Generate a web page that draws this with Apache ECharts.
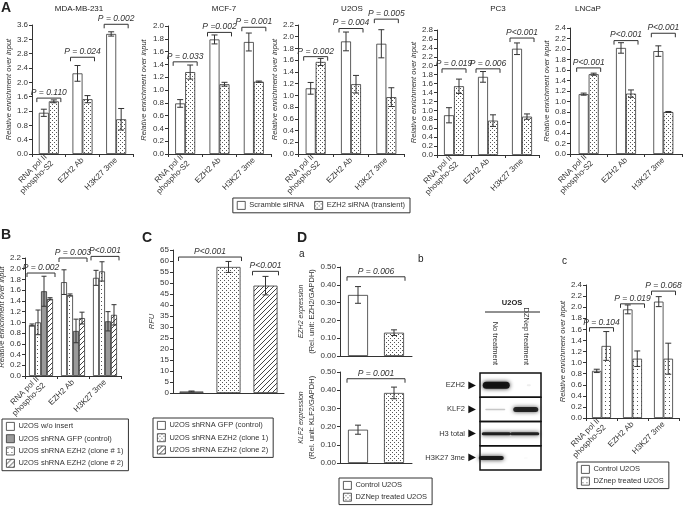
<!DOCTYPE html>
<html><head><meta charset="utf-8">
<script src="https://cdn.jsdelivr.net/npm/echarts@6/dist/echarts.min.js"></script>
<style>html,body{margin:0;padding:0;background:#fff}#c{width:685px;height:506px}</style>
</head><body><div id="c"></div>
<script>
// ================= DATA =================
const chipCats = ['RNA pol II\nphospho-S2', 'EZH2 Ab', 'H3K27 3me'];
const namesA = ['Scramble siRNA', 'EZH2 siRNA (transient)'];

const mdaScr = [1.15, 2.25, 3.35], mdaScrErr = [0.10, 0.22, 0.06];
const mdaSi  = [1.47, 1.53, 0.97], mdaSiErr  = [0.04, 0.10, 0.30];
const mdaP = ['P = 0.110', 'P = 0.024', 'P = 0.002'], mdaPy = [1.56, 2.70, 3.62];

const mcfScr = [0.79, 1.79, 1.75], mcfScrErr = [0.06, 0.07, 0.14];
const mcfSi  = [1.28, 1.09, 1.13], mcfSiErr  = [0.11, 0.03, 0.01];
const mcfP = ['P = 0.033', 'P =0.002', 'P = 0.001'], mcfPy = [1.44, 1.90, 1.98];

const u2Scr = [1.12, 1.92, 1.88], u2ScrErr = [0.10, 0.16, 0.24];
const u2Si  = [1.57, 1.19, 0.97], u2SiErr  = [0.06, 0.15, 0.16];
const u2P = ['P = 0.002', 'P = 0.004', 'P = 0.005'], u2Py = [1.66, 2.14, 2.30];

const pc3Scr = [0.89, 1.75, 2.38], pc3ScrErr = [0.17, 0.12, 0.13];
const pc3Si  = [1.54, 0.77, 0.86], pc3SiErr  = [0.16, 0.13, 0.06];
const pc3P = ['P = 0.019', 'P = 0.006', 'P<0.001'], pc3Py = [1.93, 1.93, 2.62];

const lnScr = [1.14, 2.02, 1.96], lnScrErr = [0.02, 0.10, 0.10];
const lnSi  = [1.52, 1.15, 0.80], lnSiErr  = [0.02, 0.07, 0.01];
const lnP = ['P<0.001', 'P<0.001', 'P<0.001'], lnPy = [1.64, 2.16, 2.30];

const namesB = ['U2OS w/o insert', 'U2OS shRNA GFP (control)', 'U2OS shRNA EZH2 (clone # 1)', 'U2OS shRNA EZH2 (clone # 2)'];
const bWo  = [0.95, 1.75, 1.83], bWoErr  = [0.02, 0.23, 0.14];
const bC1  = [1.00, 1.51, 1.95], bC1Err  = [0.23, 0.02, 0.18];
const bGfp = [1.58, 0.84, 1.02], bGfpErr = [0.28, 0.22, 0.18];
const bC2  = [1.44, 1.08, 1.14], bC2Err  = [0.02, 0.11, 0.19];
const bP = ['P = 0.002', 'P = 0.003', 'P<0.001'], bPy = [1.92, 2.20, 2.23];

const namesC = ['U2OS shRNA GFP (control)', 'U2OS shRNA EZH2 (clone 1)', 'U2OS shRNA EZH2 (clone 2)'];
const rfu = [0.7, 57.3, 48.8], rfuErr = [0.2, 2.5, 4.2];
const cP = ['P<0.001', 'P<0.001'], cPy = [61.8, 55.3], cPspan = [[0, 1], [2, 2]];

const namesDa = ['Control U2OS', 'DZNep treated U2OS'];
const ezh2Expr = [0.343, 0.131], ezh2Err = [0.047, 0.016];
const klf2Expr = [0.183, 0.385], klf2Err = [0.025, 0.032];
const ezh2P = ['P = 0.006'], ezh2Py = [0.445];
const klf2P = ['P = 0.001'], klf2Py = [0.463];

const blotLanes = ['No treatment', 'DZNep treatment'];
const blotRows = ['EZH2', 'KLF2', 'H3 total', 'H3K27 3me'];
const blotNoTreat = [0.95, 0.22, 0.9, 0.92];
const blotDZNep   = [0.07, 0.85, 0.88, 0.03];

const namesDc = ['Control U2OS', 'DZnep treated U2OS'];
const dcCtl = [0.85, 1.96, 2.10], dcCtlErr = [0.03, 0.08, 0.09];
const dcDz  = [1.30, 1.07, 1.07], dcDzErr  = [0.26, 0.14, 0.28];
const dcP = ['P = 0.104', 'P = 0.019', 'P = 0.068'], dcPy = [1.63, 2.06, 2.29];

// ================= STYLE =================
const FONT = '"Liberation Sans", Arial, sans-serif';
const INK = '#333';
function pat(w, h, draw) {
  const c = document.createElement('canvas'); c.width = w; c.height = h;
  const g = c.getContext('2d'); g.fillStyle = '#fff'; g.fillRect(0, 0, w, h); draw(g);
  return { image: c, repeat: 'repeat' };
}
const dotsDense = pat(4, 4, g => { g.fillStyle = '#555'; g.fillRect(0, 0, 1, 1); g.fillRect(2, 2, 1, 1); });
const dotsSparse = pat(4, 4, g => { g.fillStyle = '#555'; g.fillRect(1, 1, 1, 1); });
const hatch = pat(5, 5, g => { g.fillStyle = '#444'; for (let i = 0; i < 5; i++) g.fillRect(4 - i, i, 1, 1); });
const WHITE = '#ffffff', GRAY = '#9a9a9a';
// band [width, height, dx] per row per lane (blot drawing style)
const bandStyle = [[[27, 7, 1], [4, 2, 3]], [[20, 1.5, 0], [25, 5, 0]], [[29, 3, 1], [29, 3, -1]], [[25, 4, -4], [4, 1, 0]]];

const grids = [], xAxes = [], yAxes = [], series = [];

function valueAxis(max, interval, dec, name, nameGap, rich) {
  return {
    type: 'value', min: 0, max, interval,
    axisLine: { show: true, lineStyle: { color: INK, width: 1 } },
    axisTick: { show: true, length: 3, lineStyle: { color: INK } },
    axisLabel: { fontSize: 8, color: INK, fontFamily: FONT, margin: 4, formatter: v => v.toFixed(dec) },
    splitLine: { show: false },
    name, nameLocation: 'middle', nameGap,
    nameTextStyle: rich ? { fontFamily: FONT, color: INK, fontSize: 7.5, lineHeight: 10, rich }
                        : { fontFamily: FONT, color: INK, fontSize: 7.5, fontStyle: 'italic' }
  };
}
function catAxis(data, labels, ticks) {
  return {
    type: 'category', data,
    axisLine: { show: true, lineStyle: { color: INK, width: 1 } },
    axisTick: { show: ticks, length: 3, lineStyle: { color: INK } },
    axisLabel: { show: labels, rotate: 45, interval: 0, fontSize: 8, color: INK, fontFamily: FONT, margin: 5, lineHeight: 9 }
  };
}
function errSeries(gi, vals, errs, offset, cap) {
  const data = [];
  vals.forEach((v, i) => { if (typeof v === 'number') data.push([i, v, errs[i]]); });
  return {
    type: 'custom', xAxisIndex: gi, yAxisIndex: gi, z: 4, silent: true, encode: { x: 0, y: 1 }, data,
    renderItem(params, api) {
      const i = api.value(0), v = api.value(1), e = api.value(2);
      const t = api.coord([i, v + e]), b = api.coord([i, v - e]);
      const x = t[0] + offset, st = { stroke: INK, lineWidth: 1 };
      return { type: 'group', children: [
        { type: 'line', shape: { x1: x, y1: t[1], x2: x, y2: b[1] }, style: st },
        { type: 'line', shape: { x1: x - cap, y1: t[1], x2: x + cap, y2: t[1] }, style: st },
        { type: 'line', shape: { x1: x - cap, y1: b[1], x2: x + cap, y2: b[1] }, style: st }
      ] };
    }
  };
}
function bracketSeries(gi, spans, ys, texts, half) {
  return {
    type: 'custom', xAxisIndex: gi, yAxisIndex: gi, z: 4, silent: true, clip: false, encode: { x: 0, y: 1 },
    data: spans.map((s, k) => [s[0], ys[k], s[1], k]),
    renderItem(params, api) {
      const a = api.coord([api.value(0), api.value(1)]);
      const b = api.coord([api.value(2), api.value(1)]);
      const x1 = a[0] - half, x2 = b[0] + half, y = a[1];
      return { type: 'group', children: [
        { type: 'polyline', shape: { points: [[x1, y + 4], [x1, y], [x2, y], [x2, y + 4]] }, style: { stroke: INK, lineWidth: 1, fill: 'none' } },
        { type: 'text', x: (x1 + x2) / 2, y: y - 1, style: { text: texts[api.value(3)], align: 'center', verticalAlign: 'bottom', fontFamily: FONT, fontSize: 8.5, fontStyle: 'italic', fill: INK } }
      ] };
    }
  };
}
function panel(o) {
  const gi = grids.length;
  grids.push(Object.assign({ outerBoundsMode: 'none', containLabel: false }, o.box));
  xAxes.push(Object.assign(catAxis(o.cats, o.xLabels !== false, o.xTicks !== false), { gridIndex: gi }));
  yAxes.push(Object.assign(valueAxis(o.max, o.interval, o.dec, o.yName, o.nameGap, o.rich), { gridIndex: gi }));
  const n = o.names.length;
  o.names.forEach((nm, k) => {
    const offset = o.overlap ? 0 : (k - (n - 1) / 2) * o.barW;
    series.push({ type: 'bar', name: nm, xAxisIndex: gi, yAxisIndex: gi, data: o.vals[k], barWidth: o.barW,
      barGap: o.overlap ? '-100%' : '0%', silent: true,
      itemStyle: { color: o.fills[k], borderColor: INK, borderWidth: 0.8 } });
    series.push(errSeries(gi, o.vals[k], o.errs[k], offset, o.cap));
  });
  series.push(bracketSeries(gi, o.pSpans, o.pYs, o.pTexts, o.half));
  return gi;
}
const same3 = [[0, 0], [1, 1], [2, 2]];
const REL = 'Relative enrichment over input';
const fillsA = [WHITE, dotsDense];

// ---- Panel A ----
panel({ box: { left: 32, top: 25, width: 101, height: 129 }, cats: chipCats, max: 3.6, interval: 0.4, dec: 1, yName: REL, nameGap: 19,
  names: namesA, vals: [mdaScr, mdaSi], errs: [mdaScrErr, mdaSiErr], fills: fillsA, barW: 10, cap: 3, pSpans: same3, pYs: mdaPy, pTexts: mdaP, half: 12 });
panel({ box: { left: 168, top: 26, width: 103, height: 128 }, cats: chipCats, max: 2.0, interval: 0.2, dec: 1, yName: REL, nameGap: 20,
  names: namesA, vals: [mcfScr, mcfSi], errs: [mcfScrErr, mcfSiErr], fills: fillsA, barW: 10, cap: 3, pSpans: same3, pYs: mcfPy, pTexts: mcfP, half: 12 });
panel({ box: { left: 298, top: 25, width: 106, height: 129 }, cats: chipCats, max: 2.2, interval: 0.2, dec: 1, yName: REL, nameGap: 17,
  names: namesA, vals: [u2Scr, u2Si], errs: [u2ScrErr, u2SiErr], fills: fillsA, barW: 10, cap: 3, pSpans: same3, pYs: u2Py, pTexts: u2P, half: 12 });
panel({ box: { left: 437, top: 30, width: 102, height: 125 }, cats: chipCats, max: 2.8, interval: 0.2, dec: 1, yName: REL, nameGap: 15,
  names: namesA, vals: [pc3Scr, pc3Si], errs: [pc3ScrErr, pc3SiErr], fills: fillsA, barW: 10, cap: 3, pSpans: same3, pYs: pc3Py, pTexts: pc3P, half: 12 });
panel({ box: { left: 570, top: 28, width: 112, height: 126 }, cats: chipCats, max: 2.4, interval: 0.2, dec: 1, yName: REL, nameGap: 15,
  names: namesA, vals: [lnScr, lnSi], errs: [lnScrErr, lnSiErr], fills: fillsA, barW: 10, cap: 3, pSpans: same3, pYs: lnPy, pTexts: lnP, half: 12 });

// ---- Panel B ---- (bar order as drawn: white, sparse dots, gray, hatch)
panel({ box: { left: 25, top: 258, width: 96, height: 118 }, cats: chipCats, max: 2.2, interval: 0.2, dec: 1, yName: REL, nameGap: 15,
  names: [namesB[0], namesB[2], namesB[1], namesB[3]], vals: [bWo, bC1, bGfp, bC2], errs: [bWoErr, bC1Err, bGfpErr, bC2Err],
  fills: [WHITE, dotsSparse, GRAY, hatch], barW: 6, cap: 2.5, pSpans: same3, pYs: bPy, pTexts: bP, half: 14 });

// ---- Panel C ----
panel({ box: { left: 173, top: 250, width: 111, height: 143 }, cats: namesC, xLabels: false, xTicks: false, max: 65, interval: 5, dec: 0, yName: 'RFU', nameGap: 16,
  names: namesC, overlap: true,
  vals: [[rfu[0], '-', '-'], ['-', rfu[1], '-'], ['-', '-', rfu[2]]],
  errs: [rfuErr, rfuErr, rfuErr], fills: [WHITE, dotsDense, hatch], barW: 24, cap: 3, pSpans: cPspan, pYs: cPy, pTexts: cP, half: 13 });

// ---- Panel D a ----
const richE = { i: { fontStyle: 'italic', fontSize: 7, fontFamily: FONT, color: INK }, n: { fontSize: 7.5, fontFamily: FONT, color: INK } };
panel({ box: { left: 340, top: 267, width: 72, height: 89 }, cats: namesDa, xLabels: false, xTicks: false, max: 0.5, interval: 0.1, dec: 2,
  yName: '{i|EZH2 expression}\n{n|(Rel. unit: EZH2/GAPDH)}', rich: richE, nameGap: 23,
  names: namesDa, overlap: true, vals: [[ezh2Expr[0], '-'], ['-', ezh2Expr[1]]], errs: [ezh2Err, ezh2Err],
  fills: [WHITE, dotsDense], barW: 20, cap: 3, pSpans: [[0, 1]], pYs: ezh2Py, pTexts: ezh2P, half: 11 });
panel({ box: { left: 340, top: 372, width: 72, height: 91 }, cats: namesDa, xLabels: false, xTicks: false, max: 0.5, interval: 0.1, dec: 2,
  yName: '{i|KLF2 expression}\n{n|(Rel. unit: KLF2/GAPDH)}', rich: richE, nameGap: 23,
  names: namesDa, overlap: true, vals: [[klf2Expr[0], '-'], ['-', klf2Expr[1]]], errs: [klf2Err, klf2Err],
  fills: [WHITE, dotsDense], barW: 20, cap: 3, pSpans: [[0, 1]], pYs: klf2Py, pTexts: klf2P, half: 11 });

// ---- Panel D b (western blot) ----
const gb = grids.length;
grids.push({ left: 480, top: 373, width: 61, height: 97, outerBoundsMode: 'none', containLabel: false });
xAxes.push({ gridIndex: gb, type: 'category', data: blotLanes, position: 'top',
  axisLine: { show: false }, axisTick: { show: false },
  axisLabel: { rotate: 90, interval: 0, fontSize: 7.5, color: INK, fontFamily: FONT, margin: 8 } });
yAxes.push({ gridIndex: gb, type: 'category', data: blotRows, inverse: true,
  axisLine: { show: false }, axisTick: { show: false },
  axisLabel: { margin: 4, interval: 0, formatter: v => '{t|' + v + '} {a|\u25B6}',
    rich: { t: { fontSize: 7.5, color: INK, fontFamily: FONT }, a: { fontSize: 10, color: '#111', fontFamily: '"DejaVu Sans"' } } } });
const blotData = [];
blotRows.forEach((r, ri) => { blotData.push([0, ri, blotNoTreat[ri]]); blotData.push([1, ri, blotDZNep[ri]]); });
series.push({ type: 'custom', xAxisIndex: gb, yAxisIndex: gb, silent: true, encode: { x: 0, y: 1 }, data: blotData,
  renderItem(params, api) {
    const lane = api.value(0), row = api.value(1), inten = api.value(2);
    const c = api.coord([lane, row]), sz = api.size([1, 1]);
    const bs = bandStyle[row][lane];
    const ch = [];
    if (lane === 0) ch.push({ type: 'rect', z2: 10, shape: { x: c[0] - sz[0] / 2, y: c[1] - sz[1] / 2, width: sz[0] * 2, height: sz[1] },
      style: { fill: 'none', stroke: '#111', lineWidth: 1.5 } });
    ch.push({ type: 'rect', shape: { x: c[0] - bs[0] / 2 + bs[2], y: c[1] - bs[1] / 2, width: bs[0], height: bs[1], r: bs[1] / 2 },
      style: { fill: 'rgba(15,15,15,' + inten + ')', shadowBlur: 4, shadowColor: 'rgba(15,15,15,' + inten + ')' } });
    return { type: 'group', children: ch };
  } });

// ---- Panel D c ----
panel({ box: { left: 586, top: 285, width: 93, height: 133 }, cats: chipCats, max: 2.4, interval: 0.2, dec: 1, yName: REL, nameGap: 17,
  names: namesDc, vals: [dcCtl, dcDz], errs: [dcCtlErr, dcDzErr], fills: [WHITE, dotsSparse], barW: 9.5, cap: 3,
  pSpans: same3, pYs: dcPy, pTexts: dcP, half: 12 });

// ================= LEGENDS / TEXT =================
const legBase = { orient: 'vertical', selectedMode: false, icon: 'rect', itemWidth: 8, itemHeight: 8, itemGap: 3.5,
  borderColor: INK, borderWidth: 1, borderRadius: 0, padding: [3, 5, 3, 4],
  itemStyle: { borderColor: INK, borderWidth: 0.8 },
  textStyle: { fontSize: 7.5, color: INK, fontFamily: FONT, padding: [0, 0, 0, -1] } };
const legends = [
  Object.assign({}, legBase, { orient: 'horizontal', right: 275, top: 198, itemGap: 10, data: namesA }),
  Object.assign({}, legBase, { left: 2, top: 419, data: namesB }),
  Object.assign({}, legBase, { left: 153, top: 418, data: [{ name: namesC[0], itemStyle: { color: WHITE } }, namesC[1], namesC[2]] }),
  Object.assign({}, legBase, { left: 339, top: 478, itemGap: 3, data: namesDa }),
  Object.assign({}, legBase, { left: 577, top: 462, itemGap: 3, data: namesDc })
];
function txt(t, x, y, size, weight, align) {
  return { type: 'text', x, y, silent: true, style: { text: t, fontFamily: FONT, fontSize: size, fontWeight: weight || 'normal', fill: '#222', align: align || 'left', verticalAlign: 'top' } };
}
const graphic = [
  txt('A', 1, 1, 14, 'bold'), txt('B', 1, 228, 14, 'bold'), txt('C', 142, 231, 14, 'bold'), txt('D', 297, 231, 14, 'bold'),
  txt('a', 299, 249, 10), txt('b', 418, 254, 10), txt('c', 562, 256, 10),
  txt('MDA-MB-231', 79, 5, 8, 'normal', 'center'), txt('MCF-7', 224, 5, 8, 'normal', 'center'),
  txt('U2OS', 352, 5, 8, 'normal', 'center'), txt('PC3', 498, 5, 8, 'normal', 'center'), txt('LNCaP', 588, 5, 8, 'normal', 'center'),
  txt('U2OS', 512, 299, 7.5, 'bold', 'center'),
  { type: 'line', silent: true, shape: { x1: 485, y1: 312, x2: 540, y2: 312 }, style: { stroke: '#222', lineWidth: 1 } }
];

const chart = echarts.init(document.getElementById('c'), null, { renderer: 'canvas' });
chart.setOption({
  animation: false, backgroundColor: '#fff', textStyle: { fontFamily: FONT },
  grid: grids, xAxis: xAxes, yAxis: yAxes, series, legend: legends, graphic
});
</script></body></html>
